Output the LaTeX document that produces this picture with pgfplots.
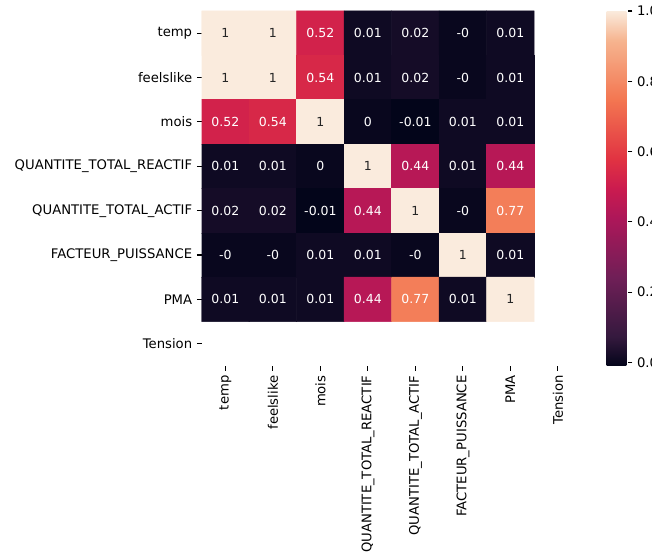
\documentclass[border=0pt]{standalone}
\usepackage{fontspec}
\setmainfont{DejaVu Sans}
\usepackage{pgfplots}
\pgfplotsset{compat=1.18}
\begin{document}
\fontsize{9.5}{11}\selectfont
\begin{tikzpicture}
\useasboundingbox (0,0) rectangle (469.44pt,-402.48pt);
\begin{axis}[
 at={(145.2pt,-263.5pt)}, anchor=south west,
 scale only axis, width=273.6pt, height=255.6pt,
 xmin=-0.5, xmax=7.5, ymin=-0.5, ymax=7.5, y dir=reverse,
 axis line style={draw=none},
 tick align=outside, major tick length=3.5pt,
 tick style={black, line width=0.8pt},
 xtick={0,...,7}, ytick={0,...,7},
 xtick pos=left, ytick pos=left,
 xticklabels={temp,feelslike,mois,QUANTITE\_TOTAL\_REACTIF,QUANTITE\_TOTAL\_ACTIF,FACTEUR\_PUISSANCE,PMA,Tension},
 yticklabels={temp,feelslike,mois,QUANTITE\_TOTAL\_REACTIF,QUANTITE\_TOTAL\_ACTIF,FACTEUR\_PUISSANCE,PMA,Tension},
 xticklabel style={rotate=90, anchor=east, font=\fontsize{9.5}{11}\selectfont},
 yticklabel style={font=\fontsize{9.5}{11}\selectfont},
 colormap={rocket}{rgb255(0cm)=(3,5,26) rgb255(0.833cm)=(53,25,62) rgb255(2.5cm)=(112,31,87) rgb255(4.167cm)=(173,23,89) rgb255(5cm)=(203,27,79) rgb255(5.833cm)=(225,51,66) rgb255(7.5cm)=(243,118,81) rgb255(9.167cm)=(246,180,143) rgb255(10cm)=(250,235,221)},
 point meta min=-0.01, point meta max=1,
 colorbar,
 colorbar style={at={(parent axis.north east)}, anchor=north west, xshift=9.5pt, scale only axis, width=15pt,
   ytick={0,0.2,0.4,0.6,0.8,1},
   yticklabel style={/pgf/number format/fixed, /pgf/number format/fixed zerofill, /pgf/number format/precision=1, /pgf/number format/assume math mode=true, font=\fontsize{9.5}{11}\selectfont},
   axis line style={draw=none}, tick align=outside, ytick pos=right, yticklabel pos=right,
   major tick length=3.5pt, tick style={black, line width=0.8pt}},
]
\addplot[matrix plot*, mesh/cols=7, point meta=explicit] table[meta=z]{
x y z
0 0 1
1 0 1
2 0 0.52
3 0 0.01
4 0 0.02
5 0 0
6 0 0.01
0 1 1
1 1 1
2 1 0.54
3 1 0.01
4 1 0.02
5 1 0
6 1 0.01
0 2 0.52
1 2 0.54
2 2 1
3 2 0
4 2 -0.01
5 2 0.01
6 2 0.01
0 3 0.01
1 3 0.01
2 3 0
3 3 1
4 3 0.44
5 3 0.01
6 3 0.44
0 4 0.02
1 4 0.02
2 4 -0.01
3 4 0.44
4 4 1
5 4 0
6 4 0.77
0 5 0
1 5 0
2 5 0.01
3 5 0.01
4 5 0
5 5 1
6 5 0.01
0 6 0.01
1 6 0.01
2 6 0.01
3 6 0.44
4 6 0.77
5 6 0.01
6 6 1
};
% white annotations
\addplot[only marks, mark=none, visualization depends on={value \thisrow{lab}\as\lab},
  nodes near coords={\lab}, nodes near coords align={center},
  nodes near coords style={text=white, font=\fontsize{9}{11}\selectfont}] table[x=x,y=y]{
x y lab
2 0 0.52
3 0 0.01
4 0 0.02
5 0 -0
6 0 0.01
2 1 0.54
3 1 0.01
4 1 0.02
5 1 -0
6 1 0.01
0 2 0.52
1 2 0.54
3 2 0
4 2 -0.01
5 2 0.01
6 2 0.01
0 3 0.01
1 3 0.01
2 3 0
4 3 0.44
5 3 0.01
6 3 0.44
0 4 0.02
1 4 0.02
2 4 -0.01
3 4 0.44
5 4 -0
6 4 0.77
0 5 -0
1 5 -0
2 5 0.01
3 5 0.01
4 5 -0
6 5 0.01
0 6 0.01
1 6 0.01
2 6 0.01
3 6 0.44
4 6 0.77
5 6 0.01
};
% dark annotations
\addplot[only marks, mark=none, visualization depends on={value \thisrow{lab}\as\lab},
  nodes near coords={\lab}, nodes near coords align={center},
  nodes near coords style={text=black!85, font=\fontsize{9}{11}\selectfont}] table[x=x,y=y]{
x y lab
0 0 1
1 0 1
0 1 1
1 1 1
2 2 1
3 3 1
4 4 1
5 5 1
6 6 1
};
\end{axis}
\end{tikzpicture}
\end{document}
